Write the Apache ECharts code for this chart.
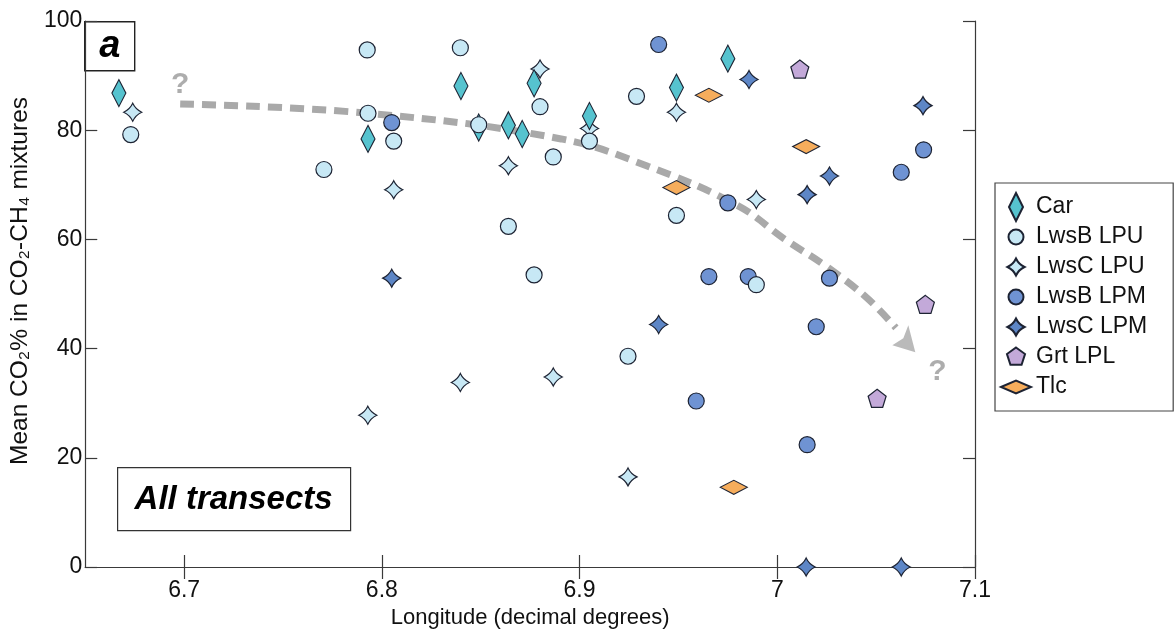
<!DOCTYPE html>
<html><head><meta charset="utf-8">
<script src="https://cdn.jsdelivr.net/npm/echarts@6/dist/echarts.min.js"></script>
<style>html,body{margin:0;padding:0;background:#fff}#c{width:1175px;height:635px}</style>
</head><body><div id="c"></div>
<script>
// ---- data ----
const xTicks = [6.7, 6.8, 6.9, 7, 7.1];
const yTicks = [0, 20, 40, 60, 80, 100];

const carX = [6.667, 6.793, 6.840, 6.877, 6.849, 6.864, 6.871, 6.905, 6.949, 6.975];
const carY = [86.8, 78.4, 88.1, 88.6, 80.5, 80.9, 79.3, 82.6, 87.8, 93.1];

const lwsbLpuX = [6.673, 6.7926, 6.793, 6.7707, 6.8397, 6.880, 6.806, 6.849, 6.8867, 6.905, 6.9288, 6.864, 6.877, 6.949, 6.9894, 6.9245];
const lwsbLpuY = [79.2, 94.7, 83.1, 72.8, 95.1, 84.3, 78.0, 81.0, 75.1, 78.0, 86.2, 62.4, 53.5, 64.4, 51.7, 38.6];

const lwscLpuX = [6.674, 6.880, 6.864, 6.905, 6.806, 6.949, 6.9894, 6.7929, 6.8397, 6.8867, 6.9245];
const lwscLpuY = [83.3, 91.2, 73.5, 80.3, 69.1, 83.3, 67.3, 27.8, 33.8, 34.8, 16.5];

const lwsbLpmX = [6.805, 6.940, 7.074, 7.0627, 6.975, 6.9654, 6.9853, 7.0264, 7.0197, 6.959, 7.0151];
const lwsbLpmY = [81.4, 95.7, 76.4, 72.3, 66.7, 53.2, 53.2, 52.9, 44.0, 30.4, 22.4];

const lwscLpmX = [6.805, 6.9857, 7.0737, 7.0264, 7.0151, 6.940, 7.0146, 7.0627];
const lwscLpmY = [52.9, 89.3, 84.5, 71.6, 68.2, 44.4, 0, 0];

const grtX = [7.0114, 7.0749, 7.0505];
const grtY = [91.2, 48.1, 30.9];

const tlcX = [6.9654, 7.0146, 6.949, 6.978];
const tlcY = [86.4, 77.0, 69.5, 14.6];

// dashed trend curve, its arrow head and the two "?" marks
const curveX = [6.698, 6.793, 6.8907, 6.9345, 6.98, 7.0035, 7.0254, 7.0456, 7.060];
const curveY = [84.8, 83.1, 78.4, 73.4, 66.2, 60.1, 54.9, 49.2, 43.8];
const arrowX = [7.064];
const arrowY = [41.8];
const qX = [6.698, 7.081];
const qY = [88.3, 35.8];

// ---- chart ----
const zip = (xs, ys) => xs.map((x, i) => [x, ys[i]]);
const STAR = 'path://M0,-10 Q3.2,-3.2 10,0 Q3.2,3.2 0,10 Q-3.2,3.2 -10,0 Q-3.2,-3.2 0,-10 Z';
const PENT = 'path://M0,-10 L9.51,-3.09 L5.88,8.09 L-5.88,8.09 L-9.51,-3.09 Z';
const ARROW = 'path://M10,12 L-13,5 L-2,-2 L3,-15 Z';
// legend icons drawn in a fixed 30x28 box (the leading moves only fix the box)
const BOX = 'path://M-15,-14 M15,14 ';
const IC = {
  car: BOX + 'M0,-14 L7,0 L0,14 L-7,0 Z',
  circ: BOX + 'M-7.5,0 A7.5,7.5 0 1,0 7.5,0 A7.5,7.5 0 1,0 -7.5,0 Z',
  star: BOX + 'M0,-8.5 Q2.7,-2.7 8.5,0 Q2.7,2.7 0,8.5 Q-2.7,2.7 -8.5,0 Q-2.7,-2.7 0,-8.5 Z',
  pent: BOX + 'M0,-9.5 L9.03,-2.94 L5.58,7.69 L-5.58,7.69 L-9.03,-2.94 Z',
  tlc: BOX + 'M-15,0 L0,-6.5 L15,0 L0,6.5 Z'
};
const BORDER = { borderColor: '#1d2333', borderWidth: 1.2 };
const FONT = 'Liberation Sans, Arial, sans-serif';

function sc(name, xs, ys, symbol, size, color) {
  return {
    name, type: 'scatter', clip: false, data: zip(xs, ys),
    symbol, symbolSize: size,
    itemStyle: Object.assign({ color, opacity: 1 }, BORDER),
    emphasis: { disabled: true }
  };
}

const chart = echarts.init(document.getElementById('c'), null, { renderer: 'canvas' });
const axisLineStyle = { color: '#3a3a3a', width: 1.2 };
chart.setOption({
  animation: false,
  backgroundColor: '#fff',
  textStyle: { fontFamily: FONT },
  grid: { left: 84, right: 200, top: 21, bottom: 68, containLabel: false },
  xAxis: [{
    type: 'value', min: 6.65, max: 7.1, position: 'bottom',
    axisLine: { show: true, lineStyle: axisLineStyle },
    axisTick: { show: true, inside: true, length: 12, customValues: xTicks, lineStyle: axisLineStyle },
    axisLabel: { customValues: xTicks, fontSize: 23, color: '#111', margin: 12, fontFamily: FONT,
      formatter: v => String(+(+v).toFixed(2)) },
    splitLine: { show: false },
    name: 'Longitude (decimal degrees)', nameLocation: 'middle', nameGap: 32,
    nameTextStyle: { fontSize: 22, color: '#111', fontFamily: FONT }
  }, {
    type: 'value', min: 6.65, max: 7.1, position: 'top',
    axisLine: { show: true, lineStyle: axisLineStyle },
    axisTick: { show: true, inside: true, length: 12, customValues: xTicks, lineStyle: axisLineStyle },
    axisLabel: { show: false }, splitLine: { show: false }
  }],
  yAxis: [{
    type: 'value', min: 0, max: 100, interval: 20, position: 'left',
    axisLine: { show: true, lineStyle: axisLineStyle },
    axisTick: { show: true, inside: true, length: 12, lineStyle: axisLineStyle },
    axisLabel: { fontSize: 23, color: '#111', margin: 3, fontFamily: FONT },
    splitLine: { show: false },
    name: 'Mean CO\u2082% in CO\u2082-CH\u2084 mixtures', nameLocation: 'middle', nameGap: 50,
    nameTextStyle: { fontSize: 24.5, color: '#111', fontFamily: FONT, padding: [0, 0, 0, 26] }
  }, {
    type: 'value', min: 0, max: 100, interval: 20, position: 'right',
    axisLine: { show: true, lineStyle: axisLineStyle },
    axisTick: { show: true, inside: true, length: 12, lineStyle: axisLineStyle },
    axisLabel: { show: false }, splitLine: { show: false }
  }],
  legend: {
    orient: 'vertical', left: 995, top: 183,
    padding: [9, 26, 9, 5], itemGap: 0, itemWidth: 30, itemHeight: 28,
    borderColor: '#444', borderWidth: 1.2, backgroundColor: '#fff',
    textStyle: { fontSize: 23, color: '#111', fontFamily: FONT },
    data: [
      { name: 'Car', icon: IC.car },
      { name: 'LwsB LPU', icon: IC.circ },
      { name: 'LwsC LPU', icon: IC.star },
      { name: 'LwsB LPM', icon: IC.circ },
      { name: 'LwsC LPM', icon: IC.star },
      { name: 'Grt LPL', icon: IC.pent },
      { name: 'Tlc', icon: IC.tlc }
    ]
  },
  series: [
    {
      type: 'line', silent: true, smooth: 0.4, symbol: 'none', z: 1,
      data: zip(curveX, curveY),
      lineStyle: { color: '#a9a9a9', width: 7, type: [14, 8] }
    },
    {
      type: 'scatter', silent: true, z: 1, clip: false,
      data: zip(arrowX, arrowY), symbol: ARROW, symbolSize: [23, 27],
      itemStyle: { color: '#a9a9a9' }
    },
    {
      type: 'scatter', silent: true, z: 1, clip: false, symbol: 'circle', symbolSize: 2,
      itemStyle: { color: 'rgba(0,0,0,0)' },
      data: zip(qX, qY),
      label: { show: true, position: 'inside', formatter: '?', fontSize: 30, fontWeight: 'bold', color: '#999999', fontFamily: FONT }
    },
    sc('LwsC LPU', lwscLpuX, lwscLpuY, STAR, 18, '#c7e8f5'),
    sc('Car', carX, carY, 'diamond', [14, 27], '#56c3cf'),
    sc('LwsB LPM', lwsbLpmX, lwsbLpmY, 'circle', 16, '#6f93d3'),
    sc('LwsB LPU', lwsbLpuX, lwsbLpuY, 'circle', 16, '#c7e8f5'),
    sc('LwsC LPM', lwscLpmX, lwscLpmY, STAR, 18, '#5d86c6'),
    sc('Grt LPL', grtX, grtY, PENT, 18, '#c3a9d9'),
    sc('Tlc', tlcX, tlcY, 'diamond', [27, 14], '#f6ad5c')
  ],
  graphic: [
    { type: 'group', left: 84, top: 21, children: [
      { type: 'rect', shape: { x: 0, y: 0, width: 50, height: 49 }, style: { fill: '#fff', stroke: '#222', lineWidth: 1.4 } },
      { type: 'text', x: 25, y: 25, style: { text: 'a', fontSize: 38, fontWeight: 'bold', fontStyle: 'italic', fontFamily: FONT, fill: '#000', align: 'center', verticalAlign: 'middle' } }
    ]},
    { type: 'group', left: 117, top: 467, children: [
      { type: 'rect', shape: { x: 0, y: 0, width: 233, height: 63 }, style: { fill: '#fff', stroke: '#333', lineWidth: 1.2 } },
      { type: 'text', x: 116, y: 32, style: { text: 'All transects', fontSize: 33, fontWeight: 'bold', fontStyle: 'italic', fontFamily: FONT, fill: '#000', align: 'center', verticalAlign: 'middle' } }
    ]}
  ]
});
</script></body></html>
